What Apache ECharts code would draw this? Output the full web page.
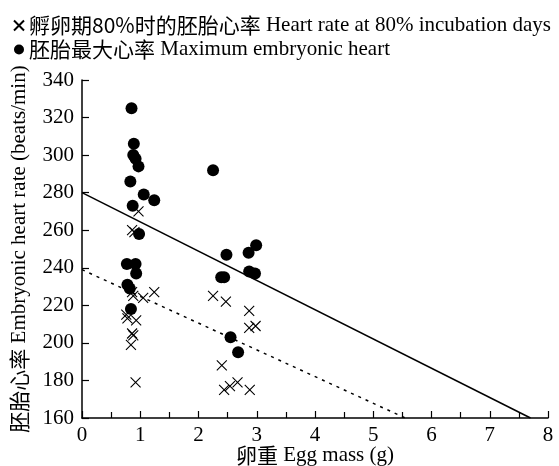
<!DOCTYPE html>
<html><head><meta charset="utf-8">
<script src="https://cdn.jsdelivr.net/npm/echarts@6/dist/echarts.min.js"></script>
<style>html,body{margin:0;padding:0;background:#fff}#c{width:559px;height:466px}</style>
</head><body><div id="c"></div>
<script>
const FONT = '"Liberation Serif","Times New Roman","Noto Sans CJK SC",serif';
const CJK = '"Noto Sans CJK SC","Liberation Serif",serif';
const xTicks = [0,1,2,3,4,5,6,7,8];
const yTicks = [160,180,200,220,240,260,280,300,320,340];
const legendNames = ['孵卵期80%时的胚胎心率 Heart rate at 80% incubation days', '胚胎最大心率 Maximum embryonic heart'];
const xName = '卵重 Egg mass (g)';
const yName = '胚胎心率 Embryonic heart rate (beats/min)';
// Heart rate at 80% incubation days (crosses)
const hr80 = [
  [0.97,270],[0.86,260],[0.90,259],[0.86,227],[0.88,225],[1.05,224],[1.24,227],
  [0.76,215],[0.78,213],[0.93,212],[0.86,205],[0.88,204],[0.84,199],[0.92,179],
  [2.25,225],[2.47,222],[2.87,217],[2.87,208],[2.98,209],[2.40,188],[2.44,175],
  [2.54,177],[2.67,179],[2.88,175]
];
// Maximum embryonic heart rate (dots)
const hrMax = [
  [0.85,325],[0.89,306],[0.88,300],[0.92,298],[0.97,294],[0.83,286],[1.06,279],
  [1.24,276],[0.87,273],[0.98,258],[0.77,242],[0.92,242],[0.93,237],[0.78,231],
  [0.82,229],[0.84,218],
  [2.25,292],[2.48,247],[2.86,248],[2.99,252],[2.39,235],[2.44,235],[2.87,238],
  [2.97,237],[2.55,203],[2.68,195]
];
// regression lines (endpoints in data units)
const fitMax = [[0,280],[7.7,160]];
const fit80 = [[0,239],[5.55,160]];

// Chinese prefix (up to first space) -> CJK font, rest -> serif
function richify(s){
  const i = s.indexOf(' ');
  const pre = s.slice(0,i), rest = s.slice(i);
  const parts = pre.match(/[\u3400-\u9fff]+|[^\u3400-\u9fff]+/g) || [];
  return parts.map(p => /[\u3400-\u9fff]/.test(p) ? '{c|'+p+'}' : '{s|'+p+'}').join('') + '{l|'+rest+'}';
}
function rich(cjkSize, latSize){
  return {c:{fontFamily:CJK,fontSize:cjkSize,color:'#000'},
          s:{fontFamily:CJK,fontSize:cjkSize,color:'#000'},
          l:{fontFamily:FONT,fontSize:latSize,color:'#000'}};
}

const chart = echarts.init(document.getElementById('c'));
const crossPath = 'path://M0,0L10,10M10,0L0,10';
chart.setOption({
  animation:false,
  textStyle:{fontFamily:FONT,color:'#000'},
  legend:{
    orient:'vertical', left:8, top:10, itemGap:3, itemWidth:10, itemHeight:10,
    textStyle:{fontFamily:FONT,fontSize:21,color:'#000',rich:rich(21,21)},
    formatter:(n)=>richify(n),
    data:[{name:legendNames[0],icon:crossPath},{name:legendNames[1],icon:'circle'}]
  },
  grid:{left:82,right:11,top:80,bottom:48,containLabel:false,outerBoundsMode:'none'},
  xAxis:{
    type:'value', min:xTicks[0], max:xTicks[xTicks.length-1], interval:1,
    name:richify(xName), nameLocation:'middle', nameGap:27, nameMoveOverlap:false,
    nameTextStyle:{fontFamily:FONT,fontSize:21,color:'#000',rich:rich(21,21)},
    axisLine:{lineStyle:{color:'#000',width:1.5}},
    axisTick:{inside:true,length:7,lineStyle:{color:'#000',width:1.2}},
    minorTick:{show:true,splitNumber:2,length:6,lineStyle:{color:'#000',width:1.2}},
    axisLabel:{fontFamily:FONT,fontSize:21,color:'#000',margin:7},
    splitLine:{show:false}
  },
  yAxis:{
    type:'value', min:yTicks[0], max:yTicks[yTicks.length-1], interval:20,
    name:richify(yName), nameLocation:'middle', nameGap:52, nameMoveOverlap:false,
    nameTextStyle:{fontFamily:FONT,fontSize:21,color:'#000',rich:rich(21,21)},
    axisLine:{show:true,lineStyle:{color:'#000',width:1.5}},
    axisTick:{show:true,inside:true,length:7,lineStyle:{color:'#000',width:1.2}},
    axisLabel:{fontFamily:FONT,fontSize:21,color:'#000',margin:8},
    splitLine:{show:false}
  },
  series:[
    {name:legendNames[0],type:'scatter',data:hr80,symbol:crossPath,symbolSize:10,
     itemStyle:{color:'rgba(0,0,0,0)',borderColor:'#000',borderWidth:1.1,opacity:1}},
    {name:legendNames[1],type:'scatter',data:hrMax,symbol:'circle',symbolSize:12,
     itemStyle:{color:'#000',opacity:1}},
    {name:'fitMax',type:'line',data:fitMax,symbol:'none',lineStyle:{color:'#000',width:1.5},z:1},
    {name:'fit80',type:'line',data:fit80,symbol:'none',lineStyle:{color:'#000',width:1.5,type:[3,5]},z:1}
  ]
});
</script></body></html>
